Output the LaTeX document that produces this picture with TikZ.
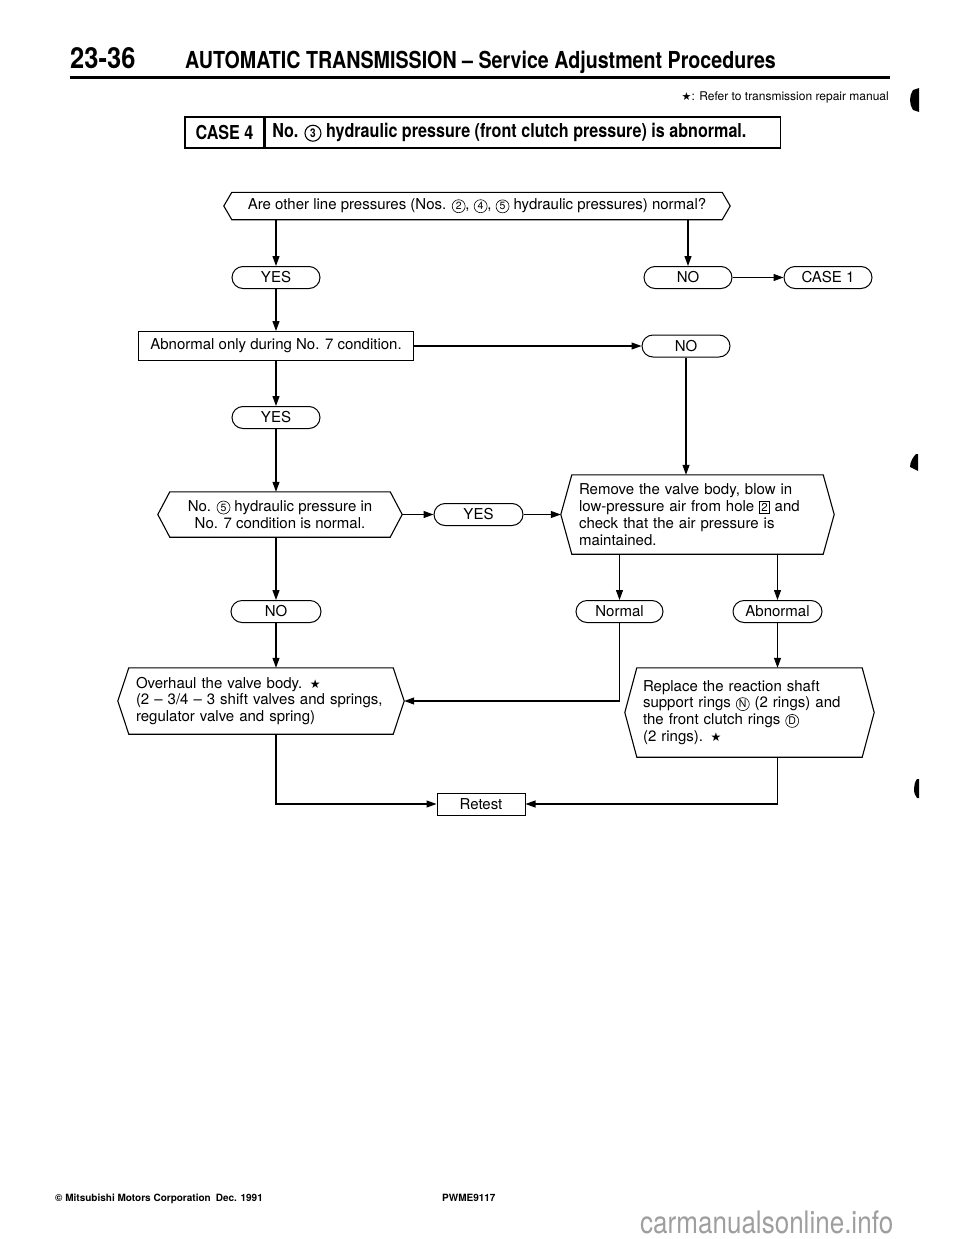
\documentclass[tikz,border=0pt]{standalone}
\usepackage{fontspec}
\setmainfont{TeX Gyre Heros}
\newfontfamily\symf{DejaVu Sans}
\newfontfamily\condf{TeX Gyre Heros}[FakeStretch=0.84]
\newfontfamily\pgf{TeX Gyre Heros}[FakeStretch=0.88]
\usetikzlibrary{arrows.meta,calc}
\newcommand\cir[1]{\tikz[baseline=(cc.base)]\node[draw,circle,line width=0.6pt,inner sep=0.6pt,minimum size=13pt,font=\fontsize{10.5}{10.5}\selectfont](cc){#1};}
\newcommand\bcir[1]{\tikz[baseline=(cc.base)]\node[draw,circle,line width=1.1pt,inner sep=0.6pt,minimum size=16pt,font=\bfseries\fontsize{12}{12}\selectfont](cc){#1};}
\newcommand\sqb[1]{{\fboxsep=1.2pt\fboxrule=0.8pt\fbox{\fontsize{11.5}{11.5}\selectfont#1}}}
\newcommand\hexoutline[2]{%
  \draw[ln] (#1.north west) -- (#1.north east) -- ([xshift=#2pt]#1.east) -- (#1.south east) -- (#1.south west) -- ([xshift=-#2pt]#1.west) -- cycle;
  \coordinate (#1-L) at ([xshift=-#2pt]#1.west);
  \coordinate (#1-R) at ([xshift=#2pt]#1.east);}
\begin{document}
\begin{tikzpicture}[x=1pt,y=-1pt,
  ln/.style={line width=1.1pt},
  arr/.style={line width=1.1pt,-{Triangle[length=10pt,width=7pt]}},
  txt/.style={font=\fontsize{15}{16.8}\selectfont},
  pill/.style={draw,line width=1pt,rounded corners=11pt,minimum height=22pt,inner sep=0pt,txt},
  hexn/.style={inner ysep=0pt,txt},
  boxn/.style={draw,line width=1pt,inner sep=0pt,txt},
  hdr/.style={draw,line width=1.3pt,minimum height=31pt,inner ysep=0pt,font=\condf\bfseries\fontsize{19.2}{19.2}\selectfont}]
\useasboundingbox (0,0) rectangle (960,1239);

% header
\node[anchor=base west,inner sep=0pt,font=\pgf\bfseries\fontsize{29}{29}\selectfont] (pg) at (70,69) {23-36};
\node[anchor=base west,inner sep=0pt,font=\condf\bfseries\fontsize{23.4}{23.4}\selectfont] (title) at (185,69) {AUTOMATIC TRANSMISSION – Service Adjustment Procedures};
\draw[line width=3pt] (70,77) -- (890,77);
\node[anchor=base east,inner sep=0pt,font=\fontsize{12}{12}\selectfont] (note) at (889,100) {{\symf\fontsize{11}{11}\selectfont ★}: Refer to transmission repair manual};

\node[hdr,minimum width=79pt,inner xsep=0pt] (c4) at (224.5,132.5) {CASE 4};
\node[hdr,anchor=west,inner xsep=7pt] (c4t) at (c4.east) {\makebox[501pt][l]{No. \bcir{3} hydraulic pressure (front clutch pressure) is abnormal.}};

% flow
\node[hexn,minimum width=490pt,minimum height=27pt,inner xsep=0pt,align=center] (q1) at (477,206) {Are other line pressures (Nos. \cir{2}, \cir{4}, \cir{5} hydraulic pressures) normal?};
\hexoutline{q1}{8}
\node[pill,minimum width=88pt] (yes1) at (276,277.5) {YES};
\node[pill,minimum width=88pt] (no1) at (688,277.5) {NO};
\node[pill,minimum width=88pt] (case1) at (828,277.5) {CASE 1};
\node[boxn,minimum width=275pt,minimum height=29pt] (ab) at (276,346) {Abnormal only during No. 7 condition.};
\node[pill,minimum width=88pt] (no2) at (686,346) {NO};
\node[pill,minimum width=88pt] (yes2) at (276,417.5) {YES};
\node[hexn,minimum width=220pt,minimum height=45pt,inner xsep=0pt,align=center,font=\fontsize{15}{17.5}\selectfont] (h2) at (280,514.5) {No. \cir{5} hydraulic pressure in\\No. 7 condition is normal.};
\hexoutline{h2}{12}
\node[pill,minimum width=89pt] (yes3) at (478.5,514.5) {YES};
\node[hexn,inner xsep=7pt,text width=237pt,minimum height=79pt,align=left] (h3) at (697.5,514.5) {Remove the valve body, blow in\\low-pressure air from hole \sqb{2} and\\check that the air pressure is\\maintained.};
\hexoutline{h3}{11}
\node[pill,minimum width=87pt] (normal) at (619.5,611.5) {Normal};
\node[pill,minimum width=89pt] (abnormal) at (777.5,611.5) {Abnormal};
\node[pill,minimum width=90pt] (no3) at (276,611.5) {NO};
\node[hexn,inner xsep=7pt,text width=250pt,minimum height=66pt,align=left] (h4) at (261,701) {Overhaul the valve body. {\symf\fontsize{12}{12}\selectfont ★}\\(2 – 3/4 – 3 shift valves and springs,\\regulator valve and spring)};
\hexoutline{h4}{11}
\node[hexn,inner xsep=6pt,text width=213pt,minimum height=89pt,align=left] (h5) at (749.5,712.5) {Replace the reaction shaft\\support rings \cir{N} (2 rings) and\\the front clutch rings \cir{D}\\(2 rings). {\symf\fontsize{12}{12}\selectfont ★}};
\hexoutline{h5}{12}
\node[boxn,minimum width=88pt,minimum height=22pt] (retest) at (481,804) {Retest};

\draw[arr] (q1.south -| yes1.north) -- (yes1.north);
\draw[arr] (q1.south -| no1.north) -- (no1.north);
\draw[arr] (no1.east) -- (case1.west);
\draw[arr] (yes1.south) -- (yes1.south |- ab.north);
\draw[arr] (ab.east) -- (no2.west);
\draw[arr] (ab.south -| yes2.north) -- (yes2.north);
\draw[arr] (yes2.south) -- (yes2.south |- h2.north);
\draw[arr] (h2-R) -- (yes3.west);
\draw[arr] (yes3.east) -- (h3-L);
\draw[arr] (no2.south) -- (no2.south |- h3.north);
\draw[arr] (h3.south -| normal.north) -- (normal.north);
\draw[arr] (h3.south -| abnormal.north) -- (abnormal.north);
\draw[arr] (h2.south -| no3.north) -- (no3.north);
\draw[arr] (no3.south) -- (no3.south |- h4.north);
\draw[arr] (normal.south) |- (h4-R);
\draw[arr] (abnormal.south) -- (abnormal.south |- h5.north);
\draw[arr] (h4.south -| no3.south) |- (retest.west);
\draw[arr] (h5.south -| abnormal.south) |- (retest.east);

% footer
\node[anchor=base west,inner sep=0pt,font=\bfseries\fontsize{10}{10}\selectfont] (copy) at (55,1201) {© Mitsubishi Motors Corporation\enspace Dec. 1991};
\node[anchor=base west,inner sep=0pt,font=\bfseries\fontsize{10}{10}\selectfont] (code) at (442,1201) {PWME9117};
\node[anchor=base west,inner sep=0pt,font=\condf\fontsize{31}{31}\selectfont,text=black!38] (wm) at (640,1233) {carmanualsonline.info};

% scan marks
\fill (913,90) -- (919,88) -- (919,112) -- (913,110) .. controls (909,104) and (909,96) .. (913,90);
\fill (916,454) -- (918,454) -- (918,471) -- (910,467) .. controls (910,462) and (913,457) .. (916,454);
\fill (917,779) -- (919,779) -- (919,798) -- (917,798) .. controls (913,794) and (913,784) .. (917,779);
\end{tikzpicture}
\end{document}
